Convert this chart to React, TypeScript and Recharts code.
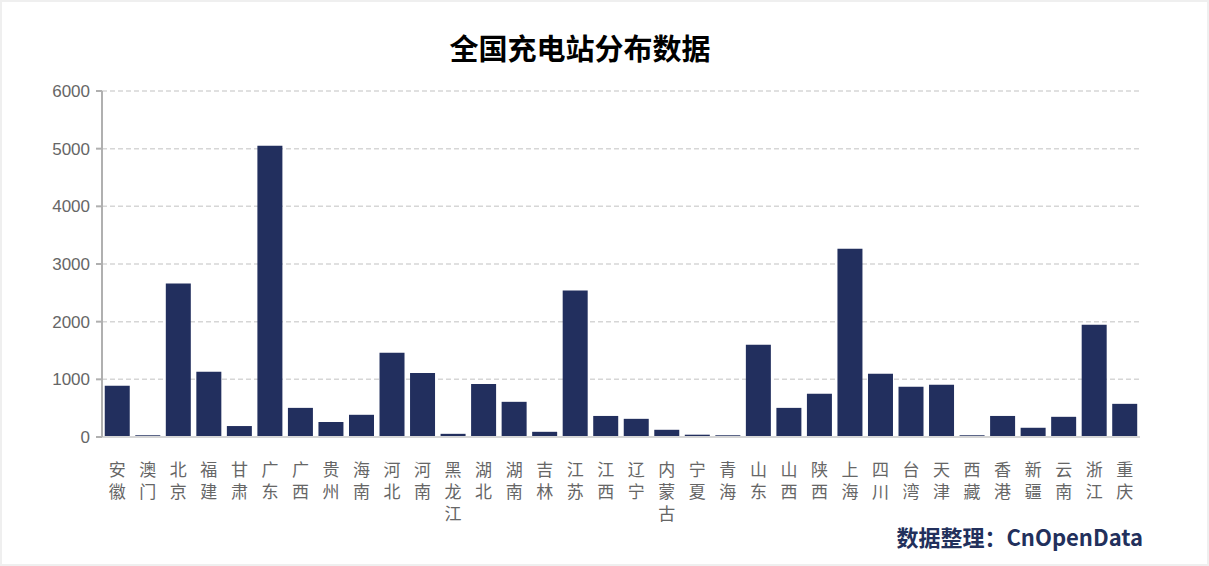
import { BarChart, Bar, XAxis, YAxis, CartesianGrid } from "recharts";

const provinces = [
  "安徽", "澳门", "北京", "福建", "甘肃", "广东", "广西", "贵州", "海南", "河北",
  "河南", "黑龙江", "湖北", "湖南", "吉林", "江苏", "江西", "辽宁", "内蒙古", "宁夏",
  "青海", "山东", "山西", "陕西", "上海", "四川", "台湾", "天津", "西藏", "香港",
  "新疆", "云南", "浙江", "重庆",
];

const stations = [
  890, 30, 2660, 1130, 190, 5050, 505, 260, 385, 1460,
  1110, 55, 920, 610, 90, 2540, 365, 315, 125, 40,
  30, 1600, 505, 750, 3265, 1095, 870, 905, 30, 365,
  160, 350, 1945, 575,
];

const yTicks = [0, 1000, 2000, 3000, 4000, 5000, 6000];

const data = provinces.map((name, i) => ({ name, value: stations[i] }));

const cjk = '"Noto Sans CJK SC", "Noto Sans", sans-serif';
const labelFont = '"Liberation Sans", "Noto Sans CJK SC", sans-serif';

// x labels are written top to bottom, one character per line
function VerticalTick(props: any) {
  const { x, y, payload } = props;
  const chars = String(payload.value).split("");
  return (
    <g>
      {chars.map((c, i) => (
        <text
          key={i}
          x={x}
          y={y + 39 + i * 22}
          textAnchor="middle"
          fill="#666"
          fontSize={17}
          fontFamily={labelFont}
        >
          {c}
        </text>
      ))}
    </g>
  );
}

export default function App() {
  return (
    <div
      style={{
        position: "fixed",
        left: 0,
        top: 0,
        width: 1209,
        height: 566,
        background: "#efefef",
      }}
    >
      <div
        style={{
          position: "absolute",
          left: 2,
          top: 2,
          width: 1205,
          height: 562,
          background: "#fff",
        }}
      />
      <div
        style={{
          position: "absolute",
          left: 380,
          top: 27,
          width: 400,
          textAlign: "center",
          fontFamily: cjk,
          fontWeight: 700,
          fontSize: 29,
          lineHeight: "40px",
          color: "#000",
        }}
      >
        全国充电站分布数据
      </div>
      <div style={{ position: "absolute", left: 0, top: 0 }}>
        <BarChart
          width={1209}
          height={566}
          data={data}
          margin={{ top: 91, right: 69, bottom: 0, left: 0 }}
          barCategoryGap="9%"
        >
          <CartesianGrid
            vertical={false}
            stroke="#d6d6d6"
            strokeDasharray="5 3"
            strokeWidth={1.5}
          />
          <XAxis
            dataKey="name"
            interval={0}
            height={129}
            tickSize={0}
            tickMargin={0}
            tick={<VerticalTick />}
            axisLine={{ stroke: "#d6d6d6", strokeWidth: 2 }}
          />
          <YAxis
            width={102}
            domain={[0, 6000]}
            ticks={yTicks}
            interval={0}
            tickSize={6}
            tickMargin={6}
            tick={{ fill: "#666", fontSize: 17, fontFamily: '"Liberation Sans", Arial, sans-serif' }}
            axisLine={{ stroke: "#b0b0b0", strokeWidth: 2 }}
            tickLine={{ stroke: "#b0b0b0", strokeWidth: 2 }}
          />
          <Bar dataKey="value" fill="#222f5e" isAnimationActive={false} />
        </BarChart>
      </div>
      <div
        style={{
          position: "absolute",
          right: 66,
          top: 521,
          fontFamily: cjk,
          fontWeight: 700,
          fontSize: 22,
          lineHeight: "30px",
          color: "#22305c",
        }}
      >
        数据整理：CnOpenData
      </div>
    </div>
  );
}
